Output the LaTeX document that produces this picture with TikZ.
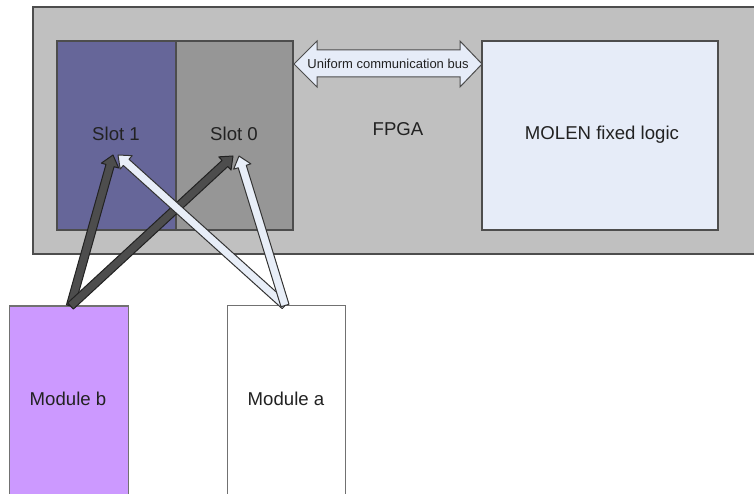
\documentclass[tikz,border=0pt]{standalone}
\usepackage{fontspec}
\setmainfont{Liberation Sans}
\usetikzlibrary{calc}

\definecolor{fpgagray}{HTML}{C0C0C0}
\definecolor{edgegray}{HTML}{4D4D4D}
\definecolor{slotone}{HTML}{666699}
\definecolor{slotzero}{HTML}{969696}
\definecolor{paleblue}{HTML}{E6ECF8}
\definecolor{lilac}{HTML}{CC99FF}
\definecolor{darkfill}{HTML}{4D4D4D}
\definecolor{darkedge}{HTML}{222222}
\definecolor{lightfill}{HTML}{E8EEF8}
\definecolor{lightedge}{HTML}{333333}
\definecolor{inktext}{HTML}{222222}

% block arrow: #1 style, #2 start, #3 tip
\newcommand{\blockarrow}[3]{%
  \coordinate (ba-h) at ($(#3)!11pt!(#2)$);
  \draw[#1]
    ($(#2)!4.2pt!90:(#3)$) -- ($(ba-h)!4.2pt!90:(#3)$) --
    ($(ba-h)!9pt!90:(#3)$) -- (#3) --
    ($(ba-h)!9pt!-90:(#3)$) -- ($(ba-h)!4.2pt!-90:(#3)$) --
    ($(#2)!4.2pt!-90:(#3)$) -- cycle;
}

\begin{document}
\begin{tikzpicture}[x=1pt,y=-1pt,
  box/.style={draw=edgegray, line width=1.4pt, anchor=north west,
    inner sep=0pt, outer sep=0pt},
  label/.style={font=\fontsize{18.6}{22}\selectfont, text=inktext},
  darkarrow/.style={fill=darkfill, draw=darkedge, line width=1pt, line join=round},
  lightarrow/.style={fill=lightfill, draw=lightedge, line width=1pt, line join=round}]
  \useasboundingbox (0,0) rectangle (754,494);
  \clip (0,0) rectangle (754,494);

  % FPGA area
  \node[box, fill=fpgagray, line width=2pt, minimum width=760pt, minimum height=246pt]
    (fpga) at (33,7.5) {};
  \node[label] (fpgalabel) at (398,129) {FPGA};

  % reconfigurable slots
  \node[box, fill=slotone, minimum width=119pt, minimum height=189pt]
    (slot1) at (57,41) {};
  \node[box, fill=slotzero, minimum width=117pt, minimum height=189pt]
    (slot0) at (176,41) {};
  \node[label] at (116,134) {Slot 1};
  \node[label] at (234,134) {Slot 0};

  % fixed logic
  \node[box, fill=paleblue, minimum width=236pt, minimum height=189pt]
    (molen) at (482,41) {};
  \node[label] at (602,135) {MOLEN fixed logic};

  % communication bus
  \draw[fill=paleblue, draw=edgegray, line width=1pt, line join=miter]
    (294,64) -- (317,41) -- (317,50) -- (460,50) -- (460,41) -- (482,64)
    -- (460,87) -- (460,77) -- (317,77) -- (317,87) -- cycle;
  \node[font=\fontsize{13}{15}\selectfont, text=inktext] (bus) at (388,63.5)
    {Uniform communication bus};

  % loadable modules
  \node[box, fill=lilac, draw=edgegray!80, minimum width=119pt, minimum height=200pt]
    (modb) at (9.5,306) {};
  \node[box, fill=white, draw=edgegray!80, minimum width=118pt, minimum height=200pt]
    (moda) at (227.5,305.5) {};
  \node[label] at (68,399) {Module b};
  \node[label] at (286,399) {Module a};

  % arrow ends
  \coordinate (bout) at (70.5,306);
  \coordinate (aout) at (285,305.5);
  \coordinate (s1b) at (113,155);
  \coordinate (s0b) at (233,156);
  \coordinate (s1a) at (118,155);
  \coordinate (s0a) at (239,156);

  \blockarrow{darkarrow}{bout}{s1b}
  \blockarrow{darkarrow}{bout}{s0b}
  \blockarrow{lightarrow}{aout}{s1a}
  \blockarrow{lightarrow}{aout}{s0a}
\end{tikzpicture}
\end{document}
